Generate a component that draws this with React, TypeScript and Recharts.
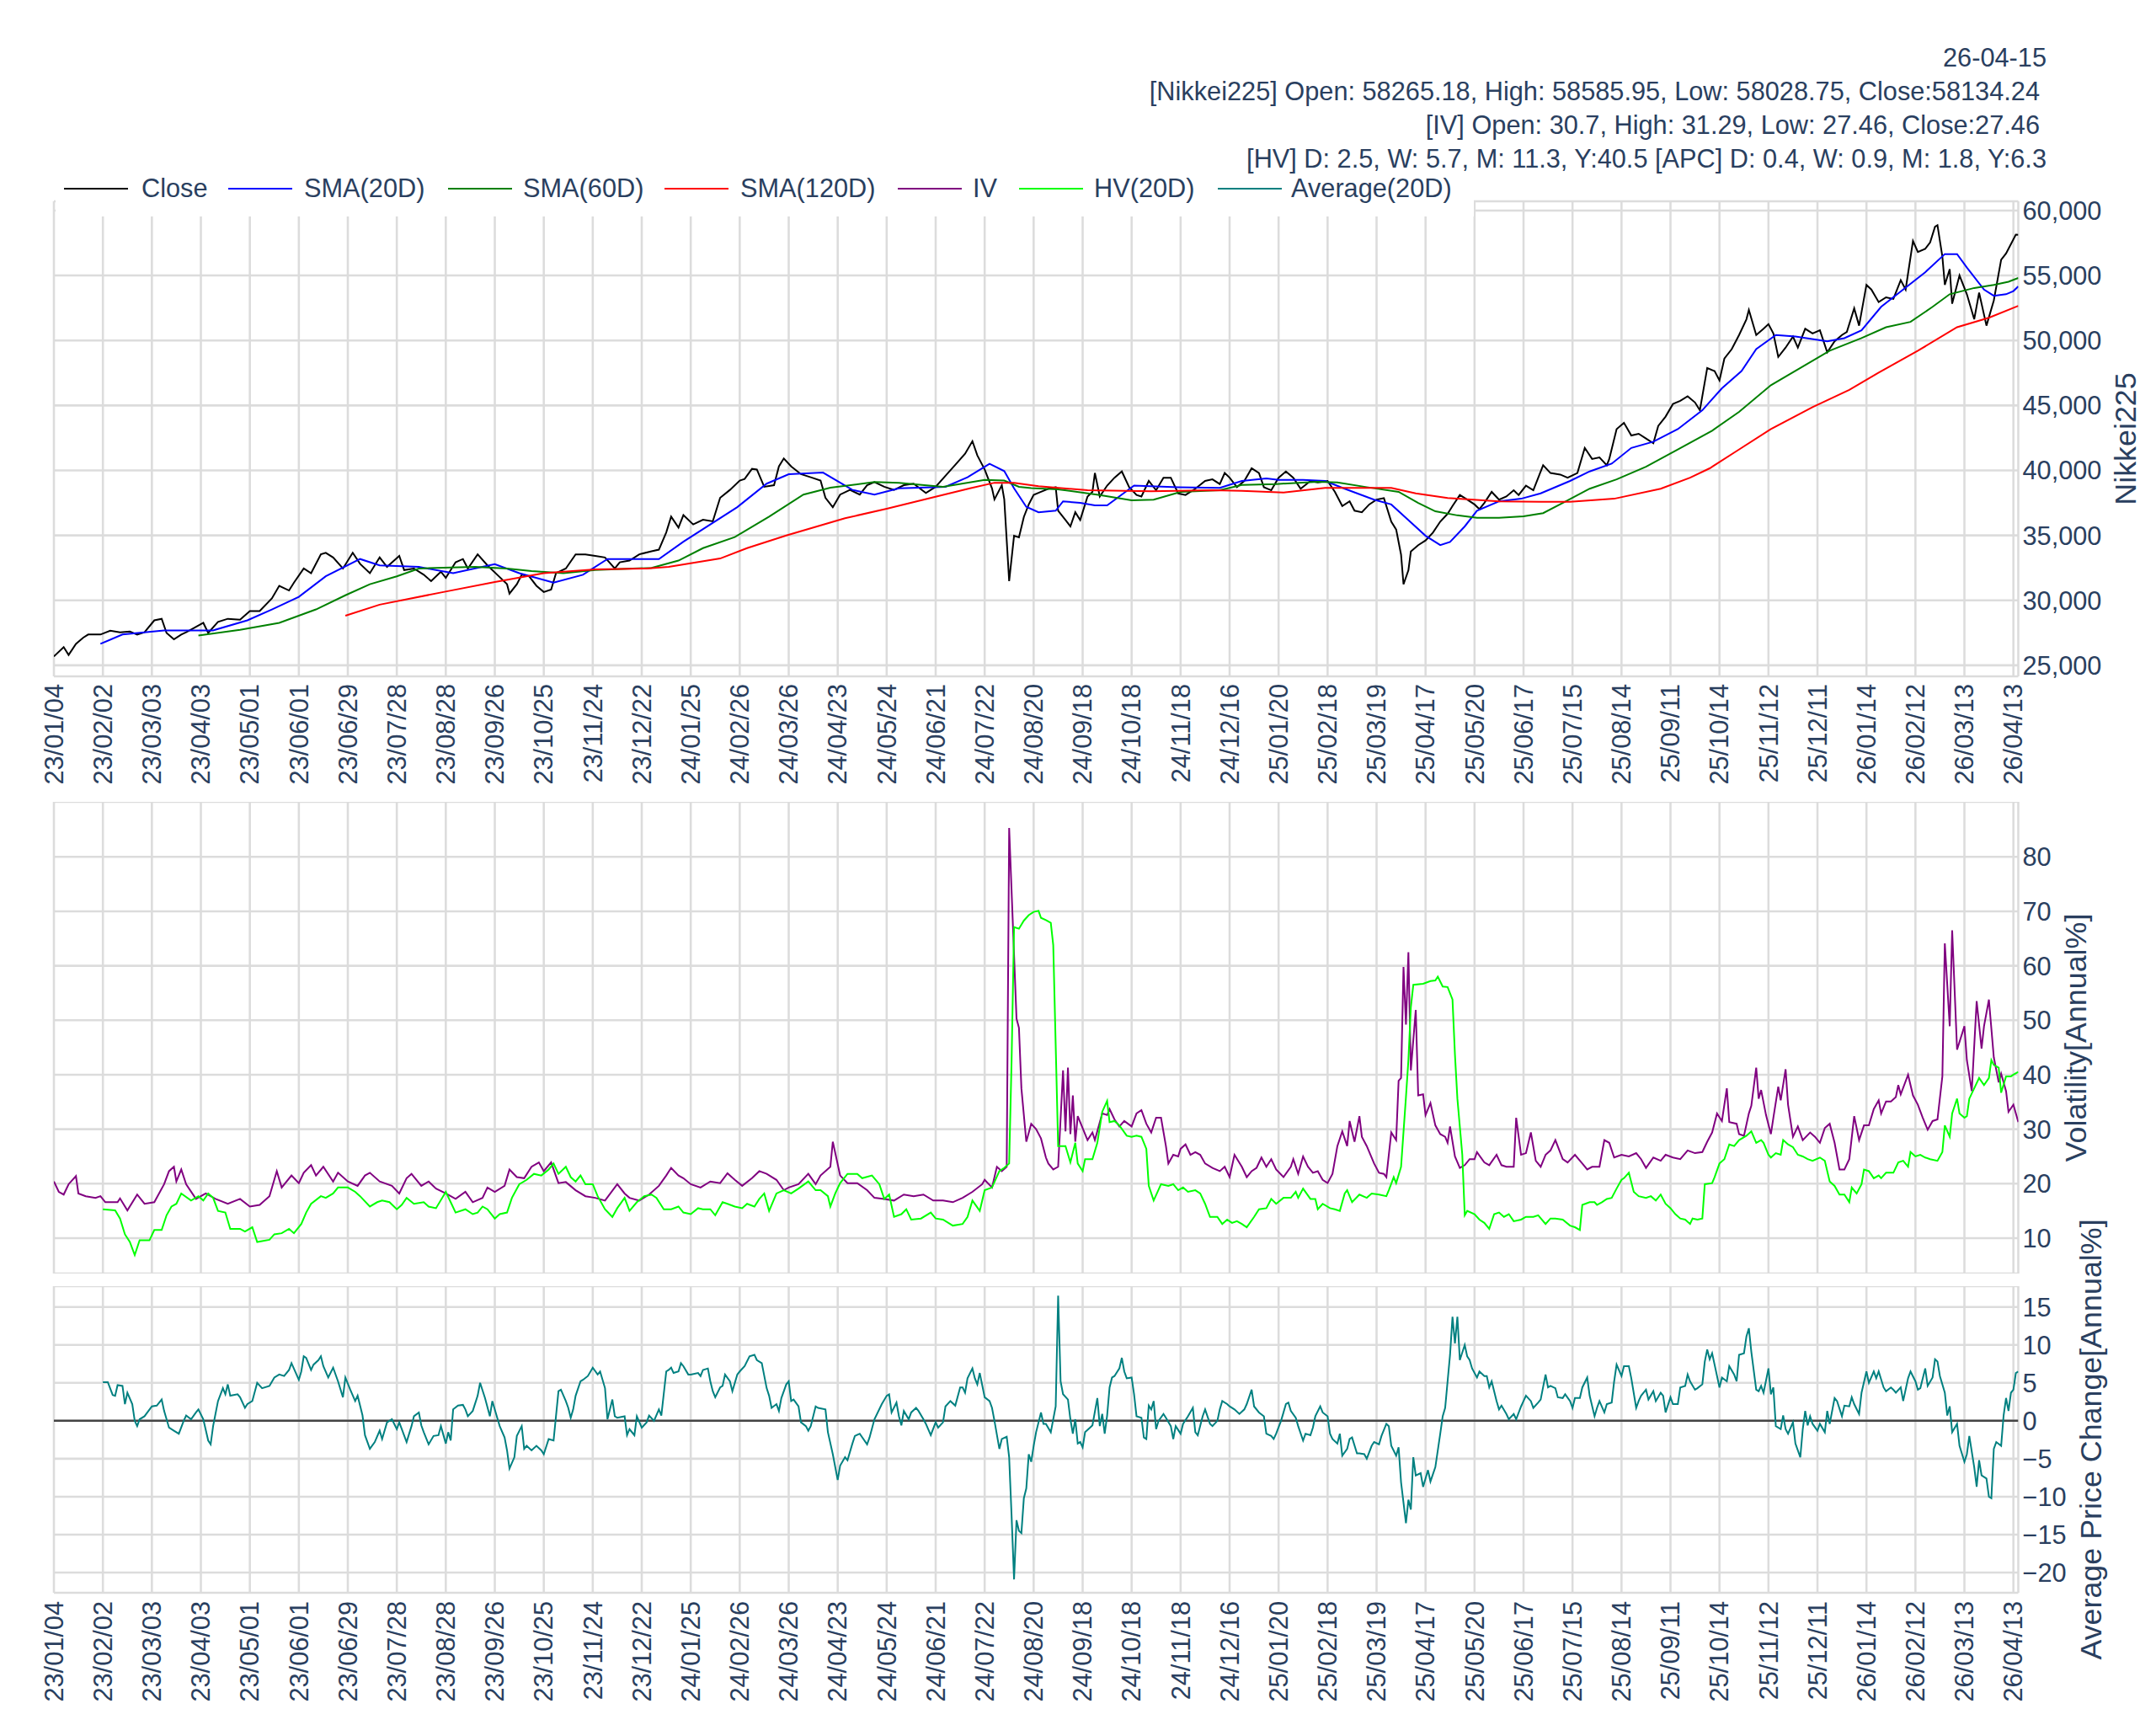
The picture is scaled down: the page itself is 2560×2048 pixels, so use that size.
import React from 'react';
import { LineChart, Line, XAxis, YAxis, CartesianGrid, ReferenceLine } from 'recharts';

// ---------- categories / tick labels (one tick every 20 trading days) ----------
const DATE_LABELS = [
  '23/01/04', '23/02/02', '23/03/03', '23/04/03', '23/05/01', '23/06/01', '23/06/29', '23/07/28',
  '23/08/28', '23/09/26', '23/10/25', '23/11/24', '23/12/22', '24/01/25', '24/02/26', '24/03/26',
  '24/04/23', '24/05/24', '24/06/21', '24/07/22', '24/08/20', '24/09/18', '24/10/18', '24/11/18',
  '24/12/16', '25/01/20', '25/02/18', '25/03/19', '25/04/17', '25/05/20', '25/06/17', '25/07/15',
  '25/08/14', '25/09/11', '25/10/14', '25/11/12', '25/12/11', '26/01/14', '26/02/12', '26/03/13',
  '26/04/13',
];
const X_TICKS = DATE_LABELS.map((_, k) => k * 20);
const LAST_DAY = 802;
const PRICE_TICKS = [25000, 30000, 35000, 40000, 45000, 50000, 55000, 60000];
const VOL_TICKS = [10, 20, 30, 40, 50, 60, 70, 80];
const APC_TICKS = [-20, -15, -10, -5, 0, 5, 10, 15];

const HEADER_DATE = '26-04-15';
const HEADER_NIKKEI = '[Nikkei225] Open: 58265.18, High: 58585.95, Low: 58028.75, Close:58134.24';
const HEADER_IV = '[IV] Open: 30.7, High: 31.29, Low: 27.46, Close:27.46';
const HEADER_HV = '[HV] D: 2.5, W: 5.7, M: 11.3, Y:40.5 [APC] D: 0.4, W: 0.9, M: 1.8, Y:6.3';

// ---------- series values: [trading-day index, value] ----------
const CLOSE: [number, number][] = [
  [0,25680],[4,26400],[6,25800],[9,26650],[12,27130],[14,27370],[19,27370],[23,27660],[27,27540],[31,27600],
  [34,27370],[37,27540],[41,28460],[44,28580],[46,27490],[49,27000],[52,27370],[54,27540],[57,27850],[61,28270],
  [63,27490],[67,28340],[71,28580],[76,28510],[80,29180],[84,29180],[89,30150],[92,31120],[96,30760],[98,31360],
  [102,32450],[105,32090],[109,33540],[111,33660],[114,33300],[118,32450],[122,33660],[125,32810],[129,32090],[133,33300],
  [136,32570],[141,33420],[143,32330],[147,32450],[151,31970],[154,31480],[158,32210],[160,31730],[164,32930],[167,33180],
  [169,32450],[173,33540],[177,32690],[181,31970],[185,31240],[186,30520],[189,31240],[191,31970],[194,31850],[197,31120],
  [200,30640],[203,30830],[205,32090],[209,32450],[213,33540],[217,33540],[221,33420],[225,33300],[229,32450],[231,32930],
  [235,33060],[239,33540],[244,33780],[247,33900],[250,35230],[252,36440],[255,35600],[257,36560],[261,35840],[265,36200],
  [269,36080],[272,37890],[276,38500],[280,39220],[282,39340],[285,40120],[287,40070],[290,38740],[294,38860],[296,40310],
  [298,40920],[301,40310],[305,39710],[309,39470],[313,39220],[315,37890],[318,37170],[321,38140],[325,38500],[329,38140],
  [332,38860],[335,39100],[339,38740],[343,38500],[347,38860],[351,38980],[356,38260],[360,38740],[364,39590],[368,40430],
  [372,41280],[375,42250],[377,41160],[380,40070],[383,38620],[384,37770],[387,38860],[388,37770],[390,31480],[392,34970],
  [394,34850],[396,36420],[398,37380],[400,38110],[403,38350],[406,38590],[409,38710],[410,36900],[413,36180],[415,35690],
  [417,36780],[419,36180],[422,37990],[424,38350],[425,39800],[427,37990],[430,38830],[433,39440],[436,39920],[439,38710],
  [442,38110],[444,37990],[447,39190],[450,38470],[453,39440],[456,39440],[459,38230],[462,38110],[466,38590],[470,39190],
  [473,39310],[476,38950],[478,39800],[480,39440],[483,38710],[486,39190],[489,40160],[492,39800],[494,38710],[497,38470],
  [500,39440],[503,39920],[506,39440],[509,38590],[513,39190],[516,39070],[520,39190],[523,38350],[526,37260],[529,37620],
  [531,36900],[534,36780],[537,37380],[540,37750],[543,37870],[546,36060],[548,35450],[550,33520],[551,31230],[553,32310],
  [554,33760],[557,34250],[560,34610],[563,35210],[566,36060],[569,36660],[571,37260],[574,38110],[577,37750],[580,37380],
  [582,37020],[584,37500],[587,38350],[590,37750],[593,37990],[596,38470],[598,38110],[601,38830],[604,38470],[608,40400],
  [611,39800],[615,39680],[618,39440],[622,39800],[625,41730],[628,40880],[631,41000],[634,40400],[635,40880],[638,43180],
  [641,43660],[644,42690],[647,42820],[650,42450],[653,42090],[655,43420],[658,44140],[661,45110],[664,45350],[667,45710],
  [670,45230],[672,44630],[675,47880],[678,47640],[680,46920],[682,48610],[685,49330],[688,50420],[691,51630],[692,52350],
  [695,50420],[698,50900],[700,51260],[702,50540],[704,48730],[707,49450],[710,50300],[712,49450],[715,50900],[718,50540],
  [721,50780],[724,49090],[727,49940],[730,50420],[732,50660],[735,52470],[737,51140],[740,54280],[742,53920],[745,52950],
  [748,53320],[751,53200],[754,54640],[756,53920],[759,57660],[761,56810],[764,57050],[766,57540],[768,58750],[769,58870],
  [771,56460],[772,54280],[774,55490],[775,52830],[778,55000],[781,53560],[784,51630],[786,53680],[789,51140],[792,53080],
  [795,56210],[797,56700],[799,57420],[801,58150],[802,58134],
];

const SMA20: [number, number][] = [
  [19,26650],[28,27370],[45,27690],[65,27690],[79,28460],[89,29300],[100,30270],[111,31850],[125,33180],[133,32690],
  [149,32570],[163,32090],[180,32780],[190,32090],[204,31360],[216,31970],[226,33180],[247,33180],[257,34510],[279,37170],
  [291,38980],[300,39710],[314,39830],[326,38500],[335,38140],[345,38620],[364,38740],[373,39470],[382,40510],[388,39950],
  [392,38620],[397,37200],[402,36780],[409,36900],[412,37620],[419,37500],[425,37310],[430,37310],[441,38830],[459,38710],
  [476,38660],[485,39190],[495,39390],[500,39270],[510,39270],[519,39190],[527,38590],[539,37750],[546,37380],[553,36180],
  [560,34970],[566,34250],[570,34490],[576,35690],[581,36900],[590,37620],[599,37820],[607,38230],[619,39190],[627,39920],
  [636,40520],[644,41730],[653,42210],[663,43180],[673,44630],[681,46320],[689,47640],[695,49330],[703,50420],[711,50300],
  [724,49940],[731,50180],[738,50780],[746,52590],[755,53920],[764,55250],[772,56650],[777,56650],[781,55610],[788,53920],
  [792,53440],[797,53560],[800,53800],[802,54160],
];

const SMA60: [number, number][] = [
  [59,27300],[76,27730],[92,28270],[107,29300],[119,30390],[129,31240],[140,31850],[149,32450],[159,32520],[172,32570],
  [185,32450],[195,32260],[208,32090],[221,32330],[244,32500],[255,33060],[265,34020],[278,34870],[292,36440],[306,38140],
  [317,38670],[335,39100],[345,39050],[363,38740],[380,39270],[388,39220],[394,38740],[399,38640],[410,38540],[427,38110],
  [440,37700],[449,37750],[460,38350],[476,38470],[485,38880],[499,38950],[516,39120],[524,39070],[536,38710],[549,38350],
  [557,37500],[564,36850],[573,36540],[581,36350],[590,36350],[600,36470],[608,36710],[616,37500],[627,38590],[638,39310],
  [650,40280],[663,41610],[677,43060],[688,44500],[701,46560],[713,47880],[725,49210],[738,50180],[748,51020],[758,51430],
  [767,52590],[774,53560],[784,54040],[792,54280],[798,54520],[802,54810],
];

const SMA120: [number, number][] = [
  [119,28820],[133,29670],[159,30640],[180,31410],[200,32090],[221,32380],[242,32450],[251,32570],[272,33220],[283,34020],
  [299,34990],[323,36320],[340,37050],[361,38020],[374,38620],[384,39050],[392,39050],[402,38780],[422,38470],[448,38400],
  [473,38470],[485,38420],[502,38300],[519,38660],[546,38660],[556,38230],[569,37870],[590,37620],[607,37580],[619,37580],
  [637,37820],[656,38590],[668,39440],[676,40160],[687,41490],[701,43180],[718,44870],[733,46200],[745,47520],[761,49210],
  [777,51020],[790,51750],[802,52660],
];

const IV: [number, number][] = [
  [0,20.4],[2,18.5],[4,18.0],[6,19.9],[9,21.4],[10,18.2],[13,17.7],[17,17.4],[19,17.7],[21,16.6],[26,16.6],[27,17.3],
  [30,15.1],[34,18.0],[37,16.3],[41,16.6],[45,19.9],[47,22.3],[49,23.1],[50,20.4],[52,22.6],[54,19.9],[58,17.2],[62,18.2],
  [66,17.2],[71,16.3],[76,17.2],[80,15.8],[84,16.1],[88,17.7],[91,22.3],[93,19.3],[97,21.5],[100,20.1],[102,22.0],[105,23.4],
  [107,21.5],[110,23.1],[114,20.4],[116,22.0],[120,20.4],[124,19.6],[127,21.5],[129,22.0],[133,20.4],[138,19.6],[141,18.2],
  [144,21.0],[146,21.8],[150,19.6],[153,20.4],[156,19.1],[160,18.2],[164,17.2],[168,18.5],[171,16.6],[175,17.4],[177,19.3],
  [180,18.5],[184,19.6],[186,22.6],[189,21.2],[192,21.0],[195,23.1],[198,23.9],[200,22.3],[203,23.9],[206,20.1],[209,20.3],
  [213,18.8],[217,17.7],[221,17.4],[225,16.9],[230,19.9],[233,18.2],[235,17.4],[239,16.9],[243,18.0],[247,19.6],[250,21.5],
  [252,22.9],[255,21.5],[257,21.0],[260,19.9],[264,19.3],[268,20.4],[272,20.1],[275,21.9],[278,20.7],[281,19.6],[285,21.0],
  [288,22.3],[291,21.8],[295,20.7],[298,18.8],[300,19.3],[304,19.9],[308,21.8],[311,19.9],[313,21.5],[317,23.1],[318,27.7],
  [321,21.5],[324,20.1],[328,20.1],[332,18.8],[335,17.4],[339,17.2],[343,16.9],[347,18.0],[351,17.7],[355,18.0],[359,16.9],
  [363,16.9],[367,16.6],[371,17.4],[375,18.5],[379,19.9],[380,20.7],[383,19.3],[385,23.1],[387,22.3],[389,23.1],[390,85.3],
  [393,50.3],[394,48.6],[395,37.5],[397,27.7],[399,31.0],[401,30.0],[403,28.3],[405,24.8],[406,23.7],[408,22.6],[410,23.1],
  [412,40.8],[413,29.6],[414,41.3],[415,29.1],[416,36.2],[417,27.7],[418,32.4],[420,30.2],[422,28.0],[424,29.4],[425,28.0],
  [428,32.9],[430,32.6],[431,33.7],[433,31.8],[435,30.5],[437,31.5],[440,30.5],[442,32.9],[444,33.5],[446,31.0],[448,29.4],
  [450,32.1],[452,32.1],[454,26.9],[455,23.7],[457,25.3],[459,25.0],[460,26.4],[462,27.2],[464,25.3],[466,25.8],[468,25.3],
  [470,23.7],[473,22.9],[476,22.3],[478,23.1],[480,21.2],[482,25.3],[485,23.1],[487,21.2],[489,22.3],[491,22.9],[493,24.8],
  [495,23.1],[497,24.5],[499,22.6],[502,21.2],[505,23.1],[506,24.5],[508,21.8],[510,25.0],[512,23.1],[514,22.0],[516,22.3],
  [518,20.7],[520,20.1],[522,21.8],[524,26.9],[526,29.6],[528,26.9],[529,31.5],[531,27.7],[533,32.4],[534,28.6],[536,26.9],
  [539,23.7],[541,22.0],[543,21.8],[544,21.2],[546,29.4],[548,28.0],[549,38.9],[550,39.4],[551,59.8],[552,49.2],[553,62.5],
  [554,40.8],[556,51.9],[557,36.2],[559,36.4],[560,32.6],[562,34.8],[564,30.7],[566,29.1],[568,28.6],[569,27.5],[570,30.5],
  [572,25.0],[574,22.9],[576,23.4],[578,24.5],[580,24.5],[581,25.8],[584,23.9],[586,23.4],[589,25.3],[591,23.4],[593,23.1],
  [596,23.1],[597,32.1],[599,25.3],[601,25.6],[603,29.4],[605,24.2],[607,23.1],[609,25.3],[611,26.1],[613,28.0],[616,24.5],
  [618,23.9],[621,25.3],[624,23.7],[626,22.6],[628,23.1],[631,23.1],[633,28.0],[635,27.5],[637,24.8],[640,25.3],[643,25.0],
  [646,25.6],[648,24.5],[650,22.9],[653,24.8],[656,24.2],[658,25.3],[661,24.8],[664,24.5],[667,26.1],[670,25.6],[673,25.8],
  [675,27.7],[677,29.4],[679,32.9],[681,31.5],[683,37.5],[684,31.3],[687,31.0],[688,29.1],[690,28.8],[692,32.9],[693,34.3],
  [695,41.3],[696,35.6],[697,37.2],[699,32.6],[701,29.1],[702,32.1],[704,37.8],[705,35.3],[707,41.0],[708,34.5],[710,28.6],
  [712,30.5],[714,28.0],[717,29.4],[719,28.6],[721,27.5],[723,30.2],[725,31.0],[727,27.5],[729,22.6],[731,22.6],[733,24.5],
  [735,32.4],[737,28.0],[739,30.7],[741,30.7],[743,33.7],[745,35.3],[746,32.9],[748,35.1],[750,35.1],[752,35.9],[753,38.1],
  [754,36.4],[757,40.0],[759,36.2],[761,34.5],[763,32.1],[765,29.9],[767,31.5],[769,31.8],[771,39.7],[772,64.1],[774,48.9],
  [775,66.5],[777,44.6],[780,48.9],[781,42.7],[783,37.0],[785,53.5],[787,44.8],[788,48.9],[790,53.8],[792,43.2],[794,38.6],
  [795,40.2],[797,37.0],[798,33.2],[800,34.5],[802,31.3],
];

const HV20: [number, number][] = [
  [20,15.3],[25,15.1],[27,13.6],[29,10.7],[31,9.3],[33,6.9],[35,9.6],[39,9.6],[41,11.5],[44,11.5],[46,14.2],[48,15.8],
  [50,16.3],[52,18.2],[56,16.9],[59,17.7],[61,16.9],[63,18.2],[65,17.4],[67,15.0],[70,14.7],[72,11.7],[76,11.7],[78,11.2],
  [81,12.0],[83,9.3],[88,9.7],[90,10.7],[93,10.9],[96,11.7],[98,10.9],[101,12.6],[103,14.7],[105,16.3],[109,17.7],[111,17.4],
  [114,18.2],[116,19.3],[120,19.3],[123,18.5],[125,17.7],[129,15.8],[132,16.6],[134,16.9],[137,16.6],[140,15.3],[142,16.1],
  [144,17.4],[147,16.3],[151,16.6],[153,15.8],[156,15.5],[160,18.5],[162,16.6],[164,14.7],[168,15.3],[171,14.4],[173,14.7],
  [175,15.8],[177,15.3],[180,13.6],[182,14.4],[185,14.7],[187,17.4],[190,19.9],[193,20.7],[196,21.8],[199,21.5],[202,22.6],
  [204,23.7],[206,21.8],[209,23.1],[211,21.2],[213,20.4],[215,21.5],[217,19.9],[220,19.9],[222,17.7],[225,15.3],[228,13.9],
  [230,15.5],[233,17.4],[235,15.0],[238,16.6],[241,17.7],[244,18.0],[246,17.4],[249,15.3],[252,15.3],[255,15.8],[257,14.7],
  [260,14.4],[263,15.5],[265,15.3],[268,15.3],[270,14.2],[273,16.6],[275,16.3],[278,15.8],[281,15.5],[283,16.3],[286,15.8],
  [288,17.2],[290,18.2],[292,15.0],[295,18.2],[298,18.8],[301,18.2],[304,19.1],[308,20.4],[311,18.8],[313,18.8],[316,17.7],
  [317,15.8],[319,18.2],[321,20.1],[324,21.8],[328,21.8],[330,21.0],[334,21.5],[337,19.9],[339,17.2],[341,18.0],[343,13.9],
  [346,14.4],[348,15.3],[350,13.4],[354,13.6],[358,14.7],[360,13.6],[363,13.4],[367,12.3],[371,12.6],[373,13.9],[375,16.9],
  [378,15.0],[380,18.8],[383,19.3],[386,22.3],[388,22.9],[390,23.7],[391,42.7],[392,67.1],[394,66.8],[396,68.3],[398,69.3],
  [400,69.9],[402,70.1],[403,68.8],[405,68.4],[407,67.9],[408,63.8],[410,26.9],[413,26.9],[415,23.9],[417,27.5],[418,23.7],
  [420,22.3],[421,24.5],[424,24.5],[426,27.5],[428,33.2],[430,35.2],[431,31.3],[433,31.5],[435,30.7],[438,28.8],[440,28.6],
  [442,28.8],[444,28.6],[446,26.4],[447,19.6],[449,16.9],[452,19.9],[455,19.6],[457,19.9],[459,18.8],[461,19.3],[463,18.5],
  [466,18.8],[468,18.2],[470,16.3],[472,13.9],[475,13.9],[477,12.6],[479,13.4],[481,12.8],[483,13.1],[485,12.6],[487,12.0],
  [490,13.9],[492,15.3],[495,15.5],[497,17.2],[499,16.3],[502,17.4],[505,17.4],[507,18.5],[508,17.4],[510,19.1],[513,17.2],
  [515,17.2],[516,15.3],[518,16.3],[521,15.5],[523,15.3],[525,15.0],[527,18.2],[528,18.8],[530,16.6],[533,18.0],[536,17.4],
  [538,18.2],[541,18.0],[544,17.7],[545,18.8],[547,21.2],[548,20.1],[550,23.1],[552,35.9],[553,42.7],[554,52.4],[555,56.5],
  [559,56.7],[562,57.2],[564,57.3],[565,58.0],[567,56.2],[569,56.1],[571,53.8],[572,43.7],[573,35.6],[575,25.3],[576,14.2],
  [577,15.0],[580,14.4],[582,13.4],[584,12.8],[586,11.7],[588,14.4],[590,14.7],[592,13.9],[594,14.4],[596,13.1],[599,13.4],
  [601,13.9],[604,13.9],[606,14.2],[609,12.6],[611,13.6],[613,13.6],[616,13.4],[619,12.3],[621,12.0],[623,11.5],[624,16.1],
  [627,16.6],[629,16.6],[630,16.1],[632,16.6],[634,17.2],[636,17.4],[638,19.1],[640,20.7],[641,21.0],[643,22.0],[645,18.5],
  [647,17.7],[650,17.4],[652,17.7],[654,16.9],[656,18.0],[658,16.3],[660,15.5],[662,14.4],[664,13.6],[666,13.4],[668,12.6],
  [669,13.6],[671,13.4],[673,13.6],[674,19.9],[677,20.1],[678,21.2],[680,23.7],[682,24.5],[684,27.2],[686,26.9],[688,28.0],
  [691,28.8],[693,29.6],[695,27.5],[697,28.0],[698,27.5],[700,25.3],[701,24.8],[703,25.6],[705,25.3],[706,28.0],[708,27.2],
  [710,26.7],[712,25.3],[714,25.0],[716,24.5],[718,24.2],[721,24.8],[723,24.2],[724,22.3],[725,20.4],[727,19.6],[729,18.0],
  [731,18.0],[733,16.6],[734,19.3],[736,18.2],[738,19.9],[739,22.6],[741,22.3],[743,21.0],[745,21.5],[746,21.0],[748,22.0],
  [751,22.0],[753,23.9],[755,24.2],[757,23.1],[758,25.8],[760,25.0],[762,25.3],[764,24.8],[766,24.5],[769,24.2],[771,25.8],
  [772,30.7],[774,28.6],[775,32.9],[777,35.6],[778,32.9],[780,32.1],[781,32.4],[782,35.6],[784,37.5],[786,39.4],[788,38.1],
  [790,39.4],[791,42.7],[792,41.8],[794,41.3],[795,36.7],[797,39.7],[799,39.7],[800,40.0],[802,40.5],
];

const APC20: [number, number][] = [
  [20,5.1],[22,5.1],[24,3.4],[25,3.3],[26,4.7],[28,4.6],[29,2.2],[30,3.7],[32,2.2],[33,0.0],[34,-0.7],[35,0.2],[37,0.6],
  [40,1.9],[42,2.0],[44,2.8],[45,1.3],[47,-0.9],[49,-1.3],[51,-1.7],[53,0.0],[54,0.7],[56,0.2],[58,1.1],[59,1.5],[61,0.2],
  [63,-2.6],[64,-3.1],[65,-0.7],[67,2.6],[69,4.3],[70,3.5],[71,4.8],[72,3.3],[75,3.5],[76,3.1],[78,1.7],[79,2.2],[81,2.6],
  [83,5.0],[85,4.3],[88,4.6],[90,5.7],[92,6.1],[94,5.9],[96,6.7],[97,7.6],[100,5.4],[101,6.5],[102,8.5],[103,8.3],[105,6.7],
  [106,7.4],[108,8.0],[109,8.5],[110,7.2],[112,5.7],[114,7.0],[116,5.2],[118,3.1],[119,5.7],[121,4.1],[123,2.6],[124,3.3],
  [126,0.7],[127,-1.9],[129,-3.7],[131,-2.8],[133,-1.3],[134,-2.4],[136,-0.2],[138,0.2],[140,-1.1],[141,-0.2],[144,-2.8],
  [146,-0.7],[147,0.6],[149,1.1],[150,-0.6],[151,-1.5],[153,-3.1],[155,-2.0],[157,-1.9],[158,-0.7],[160,-3.0],[161,-1.5],
  [162,-2.6],[163,1.5],[165,2.0],[167,2.1],[168,1.5],[169,0.6],[171,1.3],[173,3.3],[174,5.0],[176,3.0],[178,0.6],[179,2.6],
  [181,0.4],[182,-0.7],[184,-2.2],[185,-3.9],[186,-6.3],[188,-4.8],[189,-2.0],[191,-0.7],[192,-3.7],[193,-3.3],[195,-3.9],
  [197,-3.3],[199,-3.9],[200,-4.4],[202,-2.4],[204,-2.6],[206,3.9],[207,4.1],[209,2.6],[210,1.7],[211,0.4],[212,1.5],
  [213,3.3],[215,5.2],[216,5.4],[218,5.9],[220,7.0],[222,6.1],[223,6.5],[225,4.3],[226,0.2],[228,2.8],[229,0.6],[230,0.4],
  [233,0.6],[234,-1.9],[235,-1.1],[237,-1.9],[238,0.6],[240,-0.9],[242,-0.2],[243,0.7],[245,0.0],[247,1.5],[248,0.7],
  [250,6.5],[251,6.7],[252,7.0],[253,6.3],[255,6.5],[256,7.6],[257,7.2],[259,6.1],[260,6.1],[263,6.3],[264,5.9],[265,6.7],
  [267,6.9],[268,5.2],[269,3.9],[270,3.1],[272,4.4],[273,4.6],[274,6.1],[276,5.2],[277,3.9],[279,6.1],[280,6.5],[282,7.2],
  [284,8.5],[286,8.7],[287,8.0],[289,7.6],[291,4.3],[292,3.3],[293,1.7],[295,2.2],[296,1.3],[297,3.0],[299,4.8],[300,5.2],
  [301,2.6],[302,2.8],[304,1.9],[305,-0.2],[307,-0.7],[308,-1.3],[309,-0.7],[311,1.9],[312,1.7],[315,1.5],[316,-1.5],
  [318,-4.4],[320,-7.8],[321,-5.9],[323,-4.8],[324,-5.2],[326,-3.0],[327,-2.0],[329,-1.7],[332,-3.1],[333,-2.2],[335,0.2],
  [338,2.2],[340,3.3],[341,3.5],[342,1.1],[344,2.4],[345,0.6],[346,-0.6],[347,1.3],[349,0.2],[350,1.1],[352,1.7],[353,1.3],
  [355,0.2],[356,-0.4],[358,-1.9],[360,-0.2],[361,-0.9],[363,-0.2],[364,1.9],[366,2.6],[368,2.0],[370,4.4],[371,4.4],
  [372,3.7],[373,5.6],[375,6.9],[376,5.6],[377,4.8],[378,6.3],[380,3.1],[382,2.6],[383,1.7],[384,0.0],[386,-3.7],[387,-2.4],
  [389,-2.1],[390,-4.8],[391,-12.6],[392,-20.9],[393,-13.1],[394,-14.5],[395,-14.8],[396,-10.2],[397,-8.9],[398,-4.4],
  [399,-5.4],[400,-3.3],[401,-1.5],[403,1.1],[404,-0.4],[405,-0.4],[407,-1.5],[409,1.9],[410,16.5],[411,5.2],[412,3.5],
  [414,2.8],[415,0.2],[416,-1.7],[417,0.2],[418,-3.0],[419,-2.8],[420,-3.5],[421,-1.5],[423,-0.9],[424,-0.6],[426,3.0],
  [427,-0.7],[428,0.9],[429,-1.7],[430,0.7],[431,4.4],[432,5.7],[433,5.9],[435,6.9],[436,8.3],[437,6.5],[438,5.6],[440,5.7],
  [441,3.5],[442,0.6],[444,0.4],[445,-2.2],[446,-2.4],[447,2.0],[448,1.5],[449,2.6],[450,-1.1],[451,0.0],[453,0.9],[454,0.4],
  [456,-0.7],[457,-2.4],[458,-0.7],[460,-1.7],[461,-0.4],[463,0.6],[465,1.7],[466,-1.5],[467,-1.9],[469,0.6],[470,1.5],
  [472,-0.4],[473,-0.7],[475,0.0],[476,1.5],[477,2.6],[479,2.2],[480,1.9],[482,1.5],[484,0.9],[486,1.5],[487,2.2],[489,4.1],
  [490,1.9],[492,1.1],[494,0.6],[495,-1.7],[497,-2.0],[498,-2.4],[499,-1.7],[501,0.0],[503,2.2],[504,2.4],[505,1.3],
  [507,0.4],[508,-0.7],[510,-2.6],[511,-1.7],[513,-1.9],[514,-0.9],[515,0.6],[517,1.9],[518,1.1],[520,0.6],[521,-1.7],
  [522,-2.4],[524,-3.0],[525,-1.7],[526,-4.6],[528,-3.7],[529,-2.4],[530,-2.2],[532,-4.3],[533,-4.3],[535,-4.4],[536,-5.0],
  [538,-3.3],[539,-2.8],[541,-3.1],[542,-2.0],[544,-0.4],[545,-0.7],[546,-3.3],[548,-4.6],[549,-3.5],[550,-8.1],[552,-13.5],
  [553,-10.4],[554,-11.7],[555,-4.8],[556,-7.2],[558,-6.9],[559,-8.7],[561,-6.5],[562,-8.0],[564,-6.1],[566,-1.7],[567,0.6],
  [568,1.7],[569,5.2],[570,8.7],[571,13.7],[572,10.2],[573,13.7],[574,8.0],[576,10.0],[577,8.5],[578,8.0],[579,6.9],
  [581,5.7],[582,6.5],[584,5.9],[585,5.9],[586,4.4],[587,5.2],[589,2.6],[590,1.5],[591,2.0],[593,0.9],[594,0.2],[596,0.9],
  [597,0.2],[599,1.9],[600,2.6],[601,3.3],[603,2.6],[604,1.7],[606,2.4],[607,2.8],[609,6.1],[610,4.4],[611,4.6],[613,4.3],
  [614,3.1],[616,3.0],[617,3.5],[619,2.6],[620,1.7],[621,3.0],[623,3.0],[624,4.4],[626,5.7],[627,3.3],[629,0.6],[630,1.7],
  [631,2.6],[633,1.1],[634,2.2],[636,2.4],[637,5.2],[638,7.4],[640,5.9],[641,7.2],[643,7.2],[644,5.6],[646,1.7],[647,2.6],
  [648,3.3],[650,4.1],[651,2.8],[653,3.9],[654,2.6],[656,3.7],[657,3.3],[658,1.1],[660,3.1],[661,2.2],[663,2.2],[664,4.4],
  [666,4.6],[667,6.1],[668,5.2],[670,4.1],[671,4.3],[673,4.8],[674,7.8],[675,9.4],[676,8.1],[677,8.9],[678,7.4],[680,4.4],
  [681,5.7],[683,5.2],[684,7.2],[686,6.1],[687,5.2],[688,8.7],[690,8.9],[691,11.1],[692,12.2],[693,9.1],[695,4.1],[696,3.9],
  [697,4.6],[698,3.7],[700,6.9],[701,3.5],[702,4.4],[703,-0.7],[705,-1.1],[706,0.7],[707,-1.1],[708,-1.7],[710,-0.2],
  [711,-3.0],[713,-4.8],[714,-1.1],[715,1.3],[716,-0.6],[717,0.6],[718,-0.4],[720,-1.3],[721,-0.4],[723,-1.5],[724,1.3],
  [725,-0.4],[727,3.0],[728,2.6],[730,0.6],[731,2.0],[733,1.9],[734,3.1],[735,2.2],[737,0.9],[738,3.7],[740,6.5],[741,5.0],
  [743,6.5],[744,5.6],[745,6.5],[747,4.4],[748,3.9],[750,4.4],[751,4.1],[752,3.7],[754,4.4],[755,2.6],[757,5.6],[758,6.5],
  [760,5.2],[761,4.1],[762,4.3],[764,6.9],[765,4.6],[767,5.7],[768,8.1],[769,7.8],[770,5.9],[772,3.7],[773,0.7],[774,1.9],
  [775,-1.5],[777,-0.4],[778,-3.3],[780,-5.4],[781,-4.4],[782,-2.0],[784,-6.1],[785,-8.7],[786,-5.2],[787,-7.2],[789,-7.6],
  [790,-10.0],[791,-10.2],[792,-3.7],[793,-2.8],[795,-3.3],[796,0.7],[797,3.0],[798,1.3],[799,3.7],[800,4.1],[801,6.3],
  [802,6.5],
];

// ---------- styling ----------
const FONT = "'Liberation Sans', Arial, Helvetica, sans-serif";
const TXT = '#2a3f5f';
const GRID = '#dcdcdc';
const FS = 30.72;
const TITLE_FS = 35.84;
const LW = 2.0;
const W = 2560;
const PLOT_L = 64;
const YAXIS_W = 163.5;
const BOX_H = 28;
const LEGEND_CY = 223.5;

const SERIES_COLORS = {
  close: '#000000',
  sma20: '#0000ff',
  sma60: '#008000',
  sma120: '#ff0000',
  iv: '#800080',
  hv: '#00ff00',
  apc: '#008080',
};

const LEGEND_ITEMS = [
  { name: 'Close', color: SERIES_COLORS.close, line: 76, text: 168 },
  { name: 'SMA(20D)', color: SERIES_COLORS.sma20, line: 271, text: 361 },
  { name: 'SMA(60D)', color: SERIES_COLORS.sma60, line: 532, text: 621 },
  { name: 'SMA(120D)', color: SERIES_COLORS.sma120, line: 789, text: 879 },
  { name: 'IV', color: SERIES_COLORS.iv, line: 1066, text: 1155 },
  { name: 'HV(20D)', color: SERIES_COLORS.hv, line: 1210, text: 1299 },
  { name: 'Average(20D)', color: SERIES_COLORS.apc, line: 1446, text: 1533 },
];

const toPts = (a: [number, number][]) => a.map(([i, v]) => ({ i, v }));

const fmtPrice = (v: number) => v.toLocaleString('en-US');
const fmtSigned = (v: number) => (v < 0 ? '\u2212' + Math.abs(v) : String(v));

const XTick = (props: any) => {
  const { x, y, payload } = props;
  const label = DATE_LABELS[Math.round(payload.value / 20)] ?? '';
  return (
    <text
      x={0}
      y={0}
      dy="0.35em"
      transform={`translate(${x},${y}) rotate(-90)`}
      textAnchor="end"
      fill={TXT}
      fontSize={FS}
      fontFamily={FONT}
    >
      {label}
    </text>
  );
};

const yTickStyle = { fill: TXT, fontSize: FS, fontFamily: FONT };

const lineProps = {
  type: 'linear' as const,
  dataKey: 'v',
  dot: false,
  activeDot: false,
  isAnimationActive: false,
  strokeWidth: LW,
};

export default function App() {
  return (
    <div style={{ position: 'relative', width: W, height: 2048, background: '#fff', overflow: 'hidden', fontFamily: FONT }}>
      <style>{'body{margin:0;background:#fff;}'}</style>

      {/* ---- price panel ---- */}
      <div style={{ position: 'absolute', left: 0, top: 0 }}>
        <LineChart width={W} height={940} margin={{ top: 239, right: 0, bottom: 0, left: PLOT_L }}>
          <CartesianGrid stroke={GRID} strokeWidth={2.56} />
          <XAxis
            dataKey="i"
            type="number"
            domain={[0, LAST_DAY]}
            ticks={X_TICKS}
            interval={0}
            height={137}
            tickSize={0}
            tickMargin={9}
            axisLine={false}
            tickLine={false}
            tick={<XTick />}
            allowDataOverflow
          />
          <YAxis
            orientation="right"
            type="number"
            domain={[24150, 60710]}
            ticks={PRICE_TICKS}
            interval={0}
            width={YAXIS_W}
            tickSize={0}
            tickMargin={5}
            axisLine={false}
            tickLine={false}
            tick={yTickStyle}
            tickFormatter={fmtPrice}
            allowDataOverflow
          />
          <Line {...lineProps} data={toPts(CLOSE)} stroke={SERIES_COLORS.close} name="Close" />
          <Line {...lineProps} data={toPts(SMA20)} stroke={SERIES_COLORS.sma20} name="SMA(20D)" />
          <Line {...lineProps} data={toPts(SMA60)} stroke={SERIES_COLORS.sma60} name="SMA(60D)" />
          <Line {...lineProps} data={toPts(SMA120)} stroke={SERIES_COLORS.sma120} name="SMA(120D)" />
        </LineChart>
      </div>

      {/* ---- volatility panel ---- */}
      <div style={{ position: 'absolute', left: 0, top: 952 }}>
        <LineChart width={W} height={560} margin={{ top: 0, right: 0, bottom: 0, left: PLOT_L }}>
          <CartesianGrid stroke={GRID} strokeWidth={2.56} />
          <XAxis dataKey="i" type="number" domain={[0, LAST_DAY]} ticks={X_TICKS} interval={0} hide allowDataOverflow />
          <YAxis
            orientation="right"
            type="number"
            domain={[3.5, 90.1]}
            ticks={VOL_TICKS}
            interval={0}
            width={YAXIS_W}
            tickSize={0}
            tickMargin={5}
            axisLine={false}
            tickLine={false}
            tick={yTickStyle}
            allowDataOverflow
          />
          <Line {...lineProps} data={toPts(IV)} stroke={SERIES_COLORS.iv} name="IV" />
          <Line {...lineProps} data={toPts(HV20)} stroke={SERIES_COLORS.hv} name="HV(20D)" />
        </LineChart>
      </div>

      {/* ---- average price change panel ---- */}
      <div style={{ position: 'absolute', left: 0, top: 1527 }}>
        <LineChart width={W} height={521} margin={{ top: 0, right: 0, bottom: 0, left: PLOT_L }}>
          <CartesianGrid stroke={GRID} strokeWidth={2.56} />
          <XAxis
            dataKey="i"
            type="number"
            domain={[0, LAST_DAY]}
            ticks={X_TICKS}
            interval={0}
            height={157}
            tickSize={0}
            tickMargin={10}
            axisLine={false}
            tickLine={false}
            tick={<XTick />}
            allowDataOverflow
          />
          <YAxis
            orientation="right"
            type="number"
            domain={[-22.66, 17.74]}
            ticks={APC_TICKS}
            interval={0}
            width={YAXIS_W}
            tickSize={0}
            tickMargin={5}
            axisLine={false}
            tickLine={false}
            tick={yTickStyle}
            tickFormatter={fmtSigned}
            allowDataOverflow
          />
          <ReferenceLine y={0} stroke="#444444" strokeWidth={2.56} ifOverflow="hidden" />
          <Line {...lineProps} data={toPts(APC20)} stroke={SERIES_COLORS.apc} name="Average(20D)" />
        </LineChart>
      </div>

      {/* ---- legend ---- */}
      <div style={{ position: 'absolute', left: 66, top: 203, width: 1684, height: 54, background: '#fff' }} />
      {LEGEND_ITEMS.map((it) => (
        <React.Fragment key={it.name}>
          <div
            style={{
              position: 'absolute',
              left: it.line,
              top: LEGEND_CY - LW / 2,
              width: 76,
              height: 0,
              borderTop: `${LW}px solid ${it.color}`,
            }}
          />
          <div
            style={{
              position: 'absolute',
              left: it.text,
              top: LEGEND_CY - BOX_H / 2,
              height: BOX_H,
              lineHeight: `${BOX_H}px`,
              fontSize: FS,
              color: TXT,
              whiteSpace: 'nowrap',
            }}
          >
            {it.name}
          </div>
        </React.Fragment>
      ))}

      {/* ---- header ---- */}
      {[
        { t: HEADER_DATE, right: 2430, cy: 68.5 },
        { t: HEADER_NIKKEI, right: 2422, cy: 108.5 },
        { t: HEADER_IV, right: 2422, cy: 148.5 },
        { t: HEADER_HV, right: 2430, cy: 188.5 },
      ].map((h) => (
        <div
          key={h.t}
          style={{
            position: 'absolute',
            right: W - h.right,
            top: h.cy - BOX_H / 2,
            height: BOX_H,
            lineHeight: `${BOX_H}px`,
            fontSize: FS,
            color: TXT,
            whiteSpace: 'nowrap',
            textAlign: 'right',
          }}
        >
          {h.t}
        </div>
      ))}

      {/* ---- axis titles ---- */}
      <svg width={W} height={2048} style={{ position: 'absolute', left: 0, top: 0, pointerEvents: 'none' }}>
        {[
          { t: 'Nikkei225', x: 2523, y: 521 },
          { t: 'Volatility[Annual%]', x: 2464, y: 1232 },
          { t: 'Average Price Change[Annual%]', x: 2482, y: 1709 },
        ].map((a) => (
          <text
            key={a.t}
            x={0}
            y={0}
            dy="0.35em"
            transform={`translate(${a.x},${a.y}) rotate(-90)`}
            textAnchor="middle"
            fill={TXT}
            fontSize={TITLE_FS}
            fontFamily={FONT}
          >
            {a.t}
          </text>
        ))}
      </svg>
    </div>
  );
}
